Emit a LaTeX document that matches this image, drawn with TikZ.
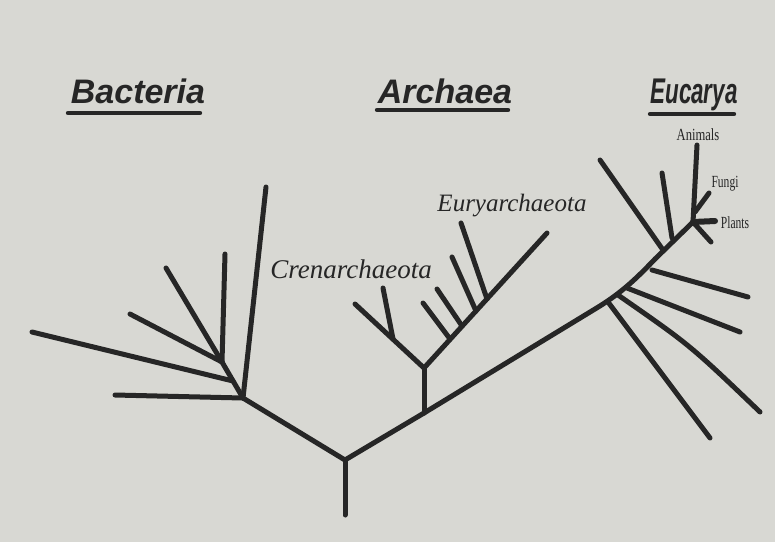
\documentclass[tikz,border=0pt]{standalone}
\usepackage{fontspec}
\setmainfont{Liberation Serif}
\setsansfont{Liberation Sans}
\definecolor{paper}{RGB}{216,216,211}
\definecolor{ink}{RGB}{38,38,38}
\begin{document}
\begin{tikzpicture}[x=0.5pt,y=-0.5pt,
  br/.style={draw=ink,line width=2.5pt,line cap=round,line join=round},
  uline/.style={draw=ink,line width=2.2pt,line cap=round},
  head/.style={font=\sffamily\bfseries\itshape\fontsize{17}{17}\selectfont,text=ink,anchor=base,inner sep=0pt},
  grp/.style={font=\itshape\fontsize{13}{13}\selectfont,text=ink,anchor=base,inner sep=0pt},
  tip/.style={font=\fontsize{8.5}{8.5}\selectfont,text=ink,anchor=base,inner sep=0pt}]
\fill[paper] (0,0) rectangle (775,542);
\useasboundingbox (0,0) rectangle (775,542);
% headings
\node[head] (hB) at (138,103) {Bacteria};
\node[head] (hA) at (445,103) {Archaea};
\node[head] (hE) at (694,103) {\scalebox{0.66}[1.05]{Eucarya}};
\coordinate (uB1) at (68,113); \coordinate (uB2) at (200,113);
\coordinate (uA1) at (377,110); \coordinate (uA2) at (508,110);
\coordinate (uE1) at (650,114); \coordinate (uE2) at (734,114);
\draw[uline] (uB1) -- (uB2);
\draw[uline] (uA1) -- (uA2);
\draw[uline] (uE1) -- (uE2);
% group labels
\node[grp,font=\itshape\fontsize{13.5}{13.5}\selectfont] (lCr) at (351,278) {Crenarchaeota};
\node[grp,font=\itshape\fontsize{12.5}{12.5}\selectfont] (lEu) at (512,211) {Euryarchaeota};
\node[tip] (lAn) at (698,140) {\scalebox{0.74}[1]{Animals}};
\node[tip] (lFu) at (725,187) {\scalebox{0.68}[1]{Fungi}};
\node[tip] (lPl) at (735,228) {\scalebox{0.68}[1]{Plants}};
% root
\coordinate (R0) at (345,515);
\coordinate (R) at (345,460);
\draw[br] (R0) -- (R);
% Bacteria
\coordinate (B) at (243,398);
\coordinate (S) at (222,362);
\coordinate (J) at (233,381);
\coordinate (b1) at (115,395);
\coordinate (b2) at (32,332);
\coordinate (b3) at (225,254);
\coordinate (b4) at (166,268);
\coordinate (b5) at (130,314);
\coordinate (b6) at (266,187);
\draw[br] (R) -- (B);
\draw[br] (B) -- (b1);
\draw[br] (B) -- (S);
\draw[br] (J) -- (b2);
\draw[br] (S) -- (b3);
\draw[br] (S) -- (b4);
\draw[br] (S) -- (b5);
\draw[br] (B) -- (b6);
% main right branch
\coordinate (M1) at (424,413);
\coordinate (M2) at (595,309);
\coordinate (M3) at (655,259);
\coordinate (E) at (693,222);
\draw[br] (R) -- (M1) -- (M2) .. controls (620,294) and (635,280) .. (M3) -- (E);
% Archaea
\coordinate (A) at (424,368);
\coordinate (cr) at (355,304);
\coordinate (crj) at (393,339);
\coordinate (cr1) at (383,288);
\coordinate (eu) at (547,233);
\draw[br] (M1) -- (A);
\draw[br] (A) -- (cr);
\draw[br] (crj) -- (cr1);
\draw[br] (A) -- (eu);
\coordinate (ej1) at (450,339); \coordinate (ee1) at (423,303);
\coordinate (ej2) at (462,326); \coordinate (ee2) at (437,289);
\coordinate (ej3) at (476,311); \coordinate (ee3) at (452,257);
\coordinate (ej4) at (487,299); \coordinate (ee4) at (461,223);
\draw[br] (ej1) -- (ee1);
\draw[br] (ej2) -- (ee2);
\draw[br] (ej3) -- (ee3);
\draw[br] (ej4) -- (ee4);
% Eucarya
\coordinate (k1) at (608,302); \coordinate (k1e) at (710,438);
\coordinate (k2) at (618,295); \coordinate (k2e) at (760,412);
\coordinate (k3) at (627,288); \coordinate (k3e) at (740,332);
\coordinate (k4) at (652,270); \coordinate (k4e) at (748,297);
\coordinate (k5) at (663,250); \coordinate (k5e) at (600,160);
\coordinate (k6) at (672,238); \coordinate (k6e) at (662,173);
\draw[br] (k1) -- (k1e);
\draw[br] (k2) .. controls (690,345) .. (k2e);
\draw[br] (k3) -- (k3e);
\draw[br] (k4) -- (k4e);
\draw[br] (k5) -- (k5e);
\draw[br] (k6) -- (k6e);
\coordinate (an) at (697,145);
\coordinate (fuj) at (695,212); \coordinate (fu) at (709,193);
\coordinate (pl) at (715,221);
\coordinate (sh) at (711,242);
\draw[br] (E) -- (an);
\draw[br] (fuj) -- (fu);
\draw[br,line width=3pt] (E) -- (pl);
\draw[br] (E) -- (sh);
\end{tikzpicture}
\end{document}
